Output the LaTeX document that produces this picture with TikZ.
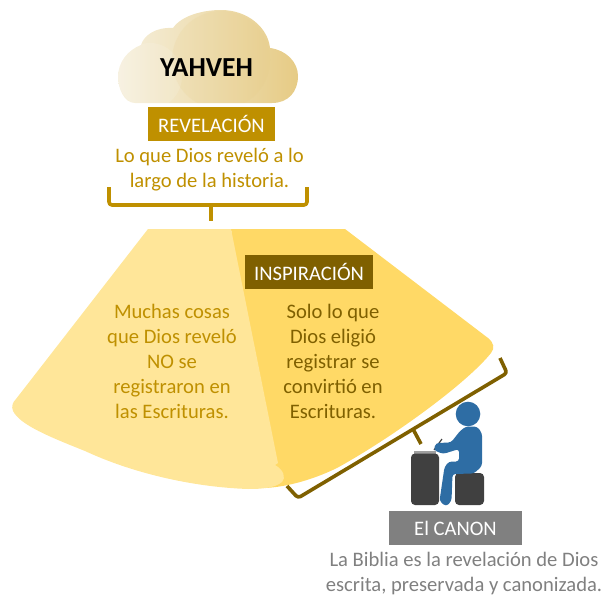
\documentclass[tikz,border=0pt]{standalone}
\usepackage{fontspec}
\setmainfont{Carlito}
\usetikzlibrary{calc}
\definecolor{gold}{HTML}{BF9000}
\definecolor{brownb}{HTML}{7F6000}
\definecolor{lightfan}{HTML}{FFE699}
\definecolor{darkfan}{HTML}{FFD966}
\definecolor{figblue}{HTML}{2E6DA4}
\definecolor{blockgray}{HTML}{404040}
\definecolor{cloudL}{HTML}{F6F0DE}
\definecolor{cloudR}{HTML}{E6CB85}
\tikzset{
  labelbox/.style={fill=#1,text=white,minimum height=34pt,inner sep=0pt,font=\fontsize{20.6}{22}\selectfont},
  bodytext/.style={align=center,font=\fontsize{20.6}{25}\selectfont},
  brace/.style={line width=3.6pt,line join=round,line cap=butt,rounded corners=3pt}
}
\begin{document}
\begin{tikzpicture}[x=1pt,y=-1pt]
\useasboundingbox (0,0) rectangle (611,597);
% cloud
\path[left color=cloudL,right color=cloudR]
 (135,103) .. controls (124,103) and (118,88) .. (118,77)
 .. controls (118,62) and (128,50) .. (141,45)
 .. controls (144,35) and (156,27) .. (173,28)
 .. controls (182,15) and (204,10) .. (221,10)
 .. controls (248,10) and (268,28) .. (270,48)
 .. controls (286,50) and (298,62) .. (298,76)
 .. controls (298,92) and (288,103) .. (272,103) -- cycle;
\begin{scope}
\clip (135,103) .. controls (124,103) and (118,88) .. (118,77)
 .. controls (118,62) and (128,50) .. (141,45)
 .. controls (144,35) and (156,27) .. (173,28)
 .. controls (182,15) and (204,10) .. (221,10)
 .. controls (248,10) and (268,28) .. (270,48)
 .. controls (286,50) and (298,62) .. (298,76)
 .. controls (298,92) and (288,103) .. (272,103) -- cycle;
\fill[cloudR,opacity=.16] (221,60) circle[radius=49];
\fill[white,opacity=.12] (150,76) ellipse[x radius=32,y radius=33];
\end{scope}
\node (yah) at (206.5,68) {\fontsize{27.5}{29}\selectfont\bfseries YAHVEH};
\node[labelbox=gold,minimum width=127pt] (rev) at (211.5,124) {REVELACIÓN};
\node[bodytext,text=gold] (revt) at (209.5,170) {Lo que Dios reveló a lo\\largo de la historia.};
% top bracket
\coordinate (tl) at (109,187); \coordinate (tr) at (307,187);
\coordinate (tm) at (211,205); \coordinate (ts) at (211,221);
\draw[brace,gold] (tl) |- (tm) -| (tr);
\draw[line width=3.6pt,gold] (tm) -- (ts);
% fan
\fill[darkfan] (231,229) -- (345,229) -- (488,338)
 .. controls (494,343) and (495,348) .. (491,353)
 .. controls (468,382) and (395,436) .. (337,468)
 .. controls (310,481) and (285,487) .. (265,488) -- cycle;
\fill[lightfan] (148,229) -- (231,229) -- (278,463) -- (275,465)
 .. controls (284,470) and (286,478) .. (282,482)
 .. controls (275,488) and (262,489) .. (248,489)
 .. controls (190,487) and (130,472) .. (85,451)
 .. controls (50,437) and (20,425) .. (13,411)
 .. controls (11,406) and (13,402) .. (16,399) -- cycle;
\node[bodytext,text=gold] (left) at (172,361) {Muchas cosas\\que Dios reveló\\NO se\\registraron en\\las Escrituras.};
\node[bodytext,text=brownb] (right) at (333,361) {Solo lo que\\Dios eligió\\registrar se\\convirtió en\\Escrituras.};
\node[labelbox=brownb,minimum width=128pt] (ins) at (309,272) {INSPIRACIÓN};
% lower bracket
\coordinate (a) at (500,358); \coordinate (b) at (507,373);
\coordinate (c) at (298,498); \coordinate (d) at (287,486);
\coordinate (j) at (413,429); \coordinate (s) at (421,444);
\draw[brace,brownb] (a) -- (b) -- (c) -- (d);
\draw[line width=3.6pt,brownb] (j) -- (s);
% figure
\fill[blockgray!50!white] (414,451) rectangle (436,455);
\fill[blockgray,rounded corners=4pt] (411,453.5) rectangle (439,505);
\fill[blockgray,rounded corners=4pt] (455,473) rectangle (484,505);
\draw[line width=1.2pt,blockgray] (434,450) -- (442,439);
\fill[figblue] (468,414) circle[radius=12.3];
\fill[figblue,rounded corners=3pt] (466,426.5) -- (477,426.5) -- (482,433) -- (482,466)
 -- (474,473.5) -- (452.5,474) -- (451.5,501) -- (446,506.5) -- (439.5,501) -- (444.5,467)
 -- (449,461.5) -- (459,461.5) -- (459,449) -- (443,454) -- (433.5,450) -- (436,443)
 -- (451,442.5) -- (460,431) -- cycle;
\node[labelbox=black!50,minimum width=133pt] (can) at (455.5,528) {El CANON};
\node[bodytext,text=black!50] (cant) at (464,574) {La Biblia es la revelación de Dios\\escrita, preservada y canonizada.};
\end{tikzpicture}
\end{document}
